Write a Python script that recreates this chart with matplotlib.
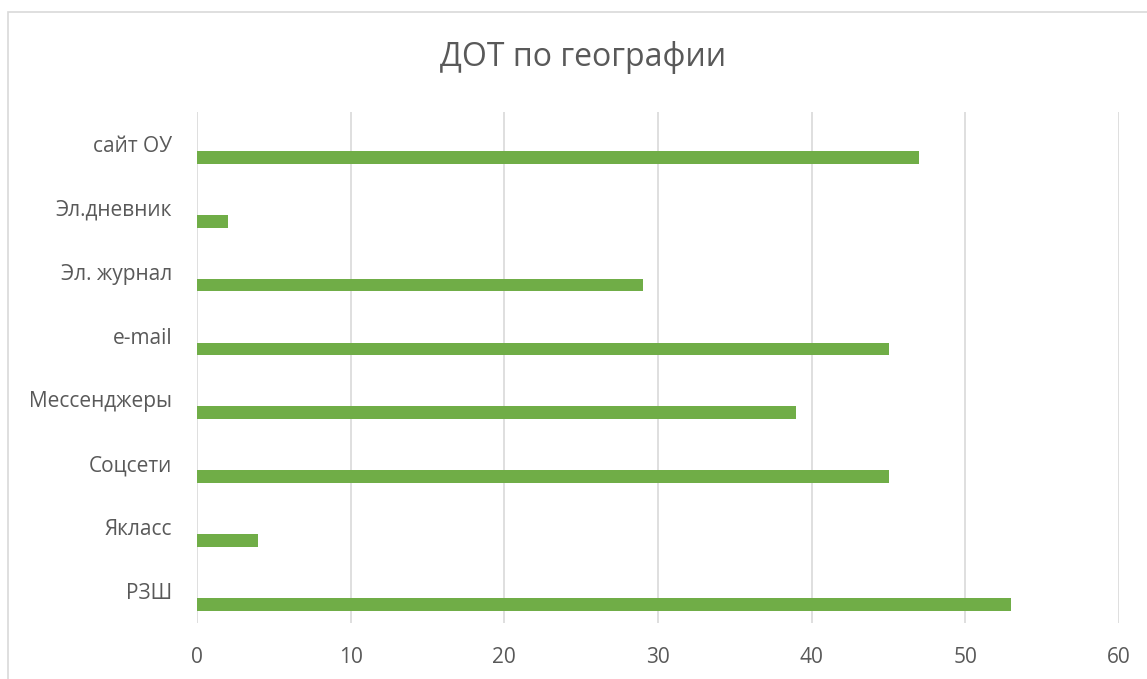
import matplotlib.pyplot as plt
from matplotlib.patches import Rectangle

# Data
categories = ['РЗШ', 'Якласс', 'Соцсети', 'Мессенджеры', 'e-mail',
              'Эл. журнал', 'Эл.дневник', 'сайт ОУ']
values = [53, 4, 45, 39, 45, 29, 2, 47]
xticks = [0, 10, 20, 30, 40, 50, 60]

plt.rcParams['font.family'] = ['Open Sans', 'DejaVu Sans']
text_color = '#595959'
bar_color = '#70AD47'

fig = plt.figure(figsize=(11.47, 6.79), dpi=100)
ax = fig.add_axes([197 / 1147, 1 - 623 / 679, 922 / 1147, 511 / 679])

# outer chart border (extends past the right/bottom edge)
fig.patches.append(Rectangle((8 / 1147, -0.1), 1.2, 1 - 12 / 679 + 0.1,
                             transform=fig.transFigure, fill=False,
                             edgecolor='#D9D9D9', linewidth=1.2))

pos = list(range(len(categories)))
ax.barh([p - 0.21 for p in pos], values, height=0.2, color=bar_color, zorder=3)

ax.set_xlim(0, 60)
ax.set_ylim(-0.5, len(categories) - 0.5)
ax.set_xticks(xticks)
ax.set_yticks(pos)
ax.set_yticklabels(categories)
ax.grid(axis='x', color='#D9D9D9', linewidth=1.2, zorder=0)
for s in ax.spines.values():
    s.set_visible(False)
ax.tick_params(length=0, labelsize=15, colors=text_color)
ax.tick_params(axis='x', pad=17)
ax.tick_params(axis='y', pad=18)

fig.text(583 / 1147, 1 - 57 / 679, 'ДОТ по географии', ha='center', va='center',
         fontsize=23, color=text_color)

plt.savefig('out.png', dpi=100)
